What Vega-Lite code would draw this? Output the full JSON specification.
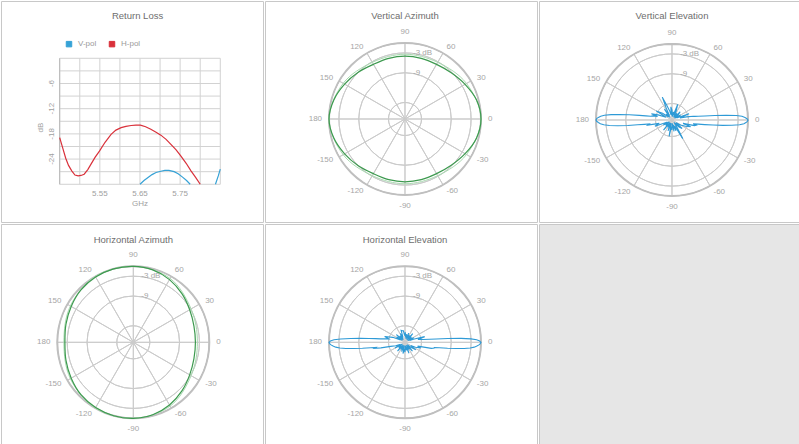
{
"$schema": "https://vega.github.io/schema/vega-lite/v6.json",
"padding": 0,
"background": "#ffffff",
"spacing": 0,
"config": {"view": {"stroke": "#c8c8c8", "strokeWidth": 1}, "font": "Liberation Sans"},
"resolve": {"scale": {"x": "independent", "y": "independent", "theta": "independent", "radius": "independent", "color": "independent"}},
"datasets": {
"spokes": [{"a":0,"a2":30},{"a":30,"a2":60},{"a":60,"a2":90},{"a":90,"a2":120},{"a":120,"a2":150},{"a":150,"a2":180},{"a":180,"a2":210},{"a":210,"a2":240},{"a":240,"a2":270},{"a":270,"a2":300},{"a":300,"a2":330},{"a":330,"a2":360}],
"rings": [{"db":-3},{"db":-6},{"db":-9},{"db":-12},{"db":-15},{"db":-18},{"db":-21}],
"outer": [{"db":0}],
"angR": [{"a":60,"t":"60"},{"a":30,"t":"30"},{"a":0,"t":"0"},{"a":-30,"t":"-30"},{"a":-60,"t":"-60"}],
"angL": [{"a":120,"t":"120"},{"a":150,"t":"150"},{"a":180,"t":"180"},{"a":-150,"t":"-150"},{"a":-120,"t":"-120"}],
"angT": [{"a":90,"t":"90"}],
"angB": [{"a":-90,"t":"-90"}],
"rlab": [{"db":-3,"t":"-3 dB"},{"db":-9,"t":"-9"}],
"gx": [{"f":5.45},{"f":5.5},{"f":5.55},{"f":5.6},{"f":5.65},{"f":5.7},{"f":5.75},{"f":5.8},{"f":5.85}],
"gy": [{"v":0},{"v":-3},{"v":-6},{"v":-9},{"v":-12},{"v":-15},{"v":-18},{"v":-21},{"v":-24},{"v":-27},{"v":-30}],
"rl": [
{"f":5.450,"db":-18.9,"pol":"H-pol","seg":"h"},{"f":5.458,"db":-21.5,"pol":"H-pol","seg":"h"},{"f":5.465,"db":-23.8,"pol":"H-pol","seg":"h"},{"f":5.472,"db":-25.5,"pol":"H-pol","seg":"h"},{"f":5.480,"db":-26.8,"pol":"H-pol","seg":"h"},{"f":5.488,"db":-27.8,"pol":"H-pol","seg":"h"},{"f":5.496,"db":-28.0,"pol":"H-pol","seg":"h"},{"f":5.503,"db":-27.9,"pol":"H-pol","seg":"h"},{"f":5.511,"db":-27.6,"pol":"H-pol","seg":"h"},{"f":5.520,"db":-26.5,"pol":"H-pol","seg":"h"},{"f":5.528,"db":-25.2,"pol":"H-pol","seg":"h"},{"f":5.538,"db":-23.6,"pol":"H-pol","seg":"h"},{"f":5.549,"db":-22.1,"pol":"H-pol","seg":"h"},{"f":5.563,"db":-20.0,"pol":"H-pol","seg":"h"},{"f":5.578,"db":-18.1,"pol":"H-pol","seg":"h"},{"f":5.590,"db":-17.1,"pol":"H-pol","seg":"h"},{"f":5.603,"db":-16.5,"pol":"H-pol","seg":"h"},{"f":5.615,"db":-16.2,"pol":"H-pol","seg":"h"},{"f":5.628,"db":-16.0,"pol":"H-pol","seg":"h"},{"f":5.640,"db":-15.9,"pol":"H-pol","seg":"h"},{"f":5.651,"db":-15.9,"pol":"H-pol","seg":"h"},{"f":5.664,"db":-16.3,"pol":"H-pol","seg":"h"},{"f":5.677,"db":-16.9,"pol":"H-pol","seg":"h"},{"f":5.690,"db":-17.6,"pol":"H-pol","seg":"h"},{"f":5.702,"db":-18.3,"pol":"H-pol","seg":"h"},{"f":5.715,"db":-19.3,"pol":"H-pol","seg":"h"},{"f":5.727,"db":-20.5,"pol":"H-pol","seg":"h"},{"f":5.740,"db":-21.8,"pol":"H-pol","seg":"h"},{"f":5.752,"db":-23.3,"pol":"H-pol","seg":"h"},{"f":5.765,"db":-25.0,"pol":"H-pol","seg":"h"},{"f":5.777,"db":-26.8,"pol":"H-pol","seg":"h"},{"f":5.789,"db":-28.4,"pol":"H-pol","seg":"h"},{"f":5.800,"db":-30.0,"pol":"H-pol","seg":"h"},
{"f":5.650,"db":-30.0,"pol":"V-pol","seg":"v1"},{"f":5.660,"db":-29.1,"pol":"V-pol","seg":"v1"},{"f":5.670,"db":-28.4,"pol":"V-pol","seg":"v1"},{"f":5.680,"db":-27.7,"pol":"V-pol","seg":"v1"},{"f":5.690,"db":-27.2,"pol":"V-pol","seg":"v1"},{"f":5.702,"db":-26.9,"pol":"V-pol","seg":"v1"},{"f":5.712,"db":-26.7,"pol":"V-pol","seg":"v1"},{"f":5.722,"db":-26.7,"pol":"V-pol","seg":"v1"},{"f":5.735,"db":-27.0,"pol":"V-pol","seg":"v1"},{"f":5.745,"db":-27.5,"pol":"V-pol","seg":"v1"},{"f":5.756,"db":-28.3,"pol":"V-pol","seg":"v1"},{"f":5.766,"db":-29.1,"pol":"V-pol","seg":"v1"},{"f":5.775,"db":-30.0,"pol":"V-pol","seg":"v1"},
{"f":5.838,"db":-30.0,"pol":"V-pol","seg":"v2"},{"f":5.845,"db":-28.0,"pol":"V-pol","seg":"v2"},{"f":5.850,"db":-26.4,"pol":"V-pol","seg":"v2"}
],
"va": [{"a":0,"db":0},{"a":15,"db":-0.6},{"a":30,"db":-2.0},{"a":45,"db":-3.2},{"a":60,"db":-3.9},{"a":75,"db":-4.0},{"a":90,"db":-4.0},{"a":105,"db":-4.0},{"a":120,"db":-3.9},{"a":135,"db":-3.0},{"a":150,"db":-1.9},{"a":165,"db":-0.7},{"a":180,"db":0},{"a":195,"db":-0.7},{"a":210,"db":-1.9},{"a":225,"db":-3.0},{"a":240,"db":-3.9},{"a":255,"db":-4.0},{"a":270,"db":-4.0},{"a":285,"db":-4.0},{"a":300,"db":-3.9},{"a":315,"db":-3.2},{"a":330,"db":-2.0},{"a":345,"db":-0.6}],
"va2": [{"a":0,"db":0},{"a":30,"db":-1.5},{"a":60,"db":-3.2},{"a":90,"db":-3.4},{"a":120,"db":-3.2},{"a":150,"db":-1.4},{"a":180,"db":0},{"a":210,"db":-1.4},{"a":240,"db":-3.2},{"a":270,"db":-3.4},{"a":300,"db":-3.2},{"a":330,"db":-1.5}],
"ha": [{"a":0,"db":-4.2},{"a":15,"db":-4.0},{"a":30,"db":-3.3},{"a":45,"db":-2.2},{"a":60,"db":-1.1},{"a":75,"db":-0.3},{"a":90,"db":0},{"a":105,"db":0},{"a":120,"db":-0.2},{"a":135,"db":-0.6},{"a":150,"db":-1.3},{"a":165,"db":-1.9},{"a":180,"db":-2.3},{"a":195,"db":-1.9},{"a":210,"db":-1.3},{"a":225,"db":-0.6},{"a":240,"db":-0.2},{"a":255,"db":0},{"a":270,"db":0},{"a":285,"db":-0.3},{"a":300,"db":-1.1},{"a":315,"db":-2.2},{"a":330,"db":-3.3},{"a":345,"db":-4.0}],
"ha2": [{"a":0,"db":-3.6},{"a":30,"db":-2.8},{"a":60,"db":-0.7},{"a":90,"db":0},{"a":120,"db":0},{"a":150,"db":-1.0},{"a":180,"db":-2.0},{"a":210,"db":-1.0},{"a":240,"db":0},{"a":270,"db":0},{"a":300,"db":-0.7},{"a":330,"db":-2.8}],
"ve": [{"a":0,"db":0},{"a":1,"db":-0.3},{"a":2,"db":-0.9},{"a":3,"db":-1.8},{"a":4,"db":-3.5},{"a":5,"db":-6.5},{"a":6,"db":-10},{"a":7,"db":-13},{"a":8,"db":-15},{"a":9,"db":-16},{"a":10,"db":-16.5},{"a":12,"db":-18.5},{"a":15,"db":-20.5},{"a":20,"db":-17.5},{"a":25,"db":-21.5},{"a":30,"db":-20},{"a":35,"db":-22},{"a":40,"db":-20.5},{"a":45,"db":-19.5},{"a":50,"db":-22},{"a":55,"db":-20.5},{"a":60,"db":-22},{"a":65,"db":-20},{"a":70,"db":-18},{"a":75,"db":-21.5},{"a":80,"db":-20.5},{"a":85,"db":-22},{"a":90,"db":-20},{"a":95,"db":-19},{"a":100,"db":-21.5},{"a":105,"db":-20},{"a":110,"db":-18},{"a":113,"db":-15.5},{"a":116,"db":-19},{"a":120,"db":-21.5},{"a":125,"db":-19},{"a":130,"db":-22},{"a":135,"db":-20.5},{"a":140,"db":-21.5},{"a":145,"db":-19.5},{"a":150,"db":-17.5},{"a":155,"db":-21},{"a":160,"db":-18.5},{"a":163,"db":-16.5},{"a":166,"db":-18.5},{"a":168,"db":-17},{"a":170,"db":-16.5},{"a":171,"db":-15},{"a":172,"db":-13},{"a":173,"db":-10},{"a":174,"db":-7},{"a":175,"db":-4.5},{"a":176,"db":-2.5},{"a":177,"db":-1.4},{"a":178,"db":-0.7},{"a":179,"db":-0.2},{"a":180,"db":0},{"a":181,"db":-0.2},{"a":182,"db":-0.7},{"a":183,"db":-1.3},{"a":184,"db":-2.3},{"a":185,"db":-4},{"a":186,"db":-6.5},{"a":187,"db":-9.5},{"a":188,"db":-12.5},{"a":189,"db":-14.5},{"a":190,"db":-16},{"a":192,"db":-15.5},{"a":195,"db":-19},{"a":200,"db":-17.5},{"a":205,"db":-21.5},{"a":210,"db":-20},{"a":215,"db":-22},{"a":220,"db":-20.5},{"a":225,"db":-21.5},{"a":230,"db":-19},{"a":235,"db":-22},{"a":240,"db":-20.5},{"a":245,"db":-21.5},{"a":250,"db":-19.5},{"a":255,"db":-22},{"a":260,"db":-18},{"a":265,"db":-21},{"a":270,"db":-20},{"a":275,"db":-22},{"a":280,"db":-19.5},{"a":285,"db":-21.5},{"a":290,"db":-19.5},{"a":295,"db":-21},{"a":300,"db":-16.5},{"a":305,"db":-20.5},{"a":310,"db":-22},{"a":315,"db":-20},{"a":320,"db":-19},{"a":325,"db":-21.5},{"a":330,"db":-20},{"a":335,"db":-18.5},{"a":340,"db":-17},{"a":343,"db":-19.5},{"a":346,"db":-16},{"a":348,"db":-15.5},{"a":350,"db":-16.5},{"a":351,"db":-15},{"a":352,"db":-13},{"a":353,"db":-10.5},{"a":354,"db":-7.5},{"a":355,"db":-4.8},{"a":356,"db":-2.5},{"a":357,"db":-1.2},{"a":358,"db":-0.6},{"a":359,"db":-0.2}],
"he": [{"a":0,"db":0},{"a":1,"db":-0.4},{"a":2,"db":-1.3},{"a":3,"db":-3},{"a":4,"db":-6},{"a":5,"db":-10},{"a":6,"db":-13.5},{"a":7,"db":-15.5},{"a":9,"db":-17.5},{"a":12,"db":-19},{"a":16,"db":-16.8},{"a":19,"db":-20},{"a":23,"db":-21.5},{"a":28,"db":-20},{"a":33,"db":-22},{"a":38,"db":-20.5},{"a":43,"db":-21.5},{"a":48,"db":-19.5},{"a":53,"db":-22},{"a":58,"db":-20.5},{"a":63,"db":-21.5},{"a":68,"db":-20},{"a":73,"db":-22},{"a":78,"db":-20.5},{"a":83,"db":-21.5},{"a":88,"db":-20},{"a":93,"db":-21},{"a":98,"db":-19.5},{"a":103,"db":-19.4},{"a":108,"db":-19.2},{"a":113,"db":-21.5},{"a":118,"db":-20},{"a":123,"db":-22},{"a":128,"db":-20.5},{"a":133,"db":-21.5},{"a":138,"db":-19.5},{"a":143,"db":-22},{"a":148,"db":-20},{"a":153,"db":-21.5},{"a":158,"db":-19},{"a":164,"db":-16.6},{"a":168,"db":-18},{"a":172,"db":-15.5},{"a":173,"db":-14},{"a":174,"db":-12},{"a":175,"db":-9.5},{"a":176,"db":-6.5},{"a":177,"db":-3.5},{"a":178,"db":-1.5},{"a":179,"db":-0.4},{"a":180,"db":0},{"a":181,"db":-0.2},{"a":182,"db":-0.6},{"a":183,"db":-1.2},{"a":184,"db":-2},{"a":185,"db":-3.2},{"a":186,"db":-5},{"a":187,"db":-7.5},{"a":188,"db":-10},{"a":189,"db":-12.5},{"a":190,"db":-14},{"a":191,"db":-13.6},{"a":193,"db":-15.5},{"a":196,"db":-18.5},{"a":200,"db":-20},{"a":205,"db":-21.5},{"a":210,"db":-19.5},{"a":215,"db":-22},{"a":220,"db":-20.5},{"a":225,"db":-21.5},{"a":230,"db":-19.5},{"a":235,"db":-22},{"a":240,"db":-20.5},{"a":245,"db":-21.5},{"a":250,"db":-20},{"a":255,"db":-22},{"a":260,"db":-19.5},{"a":265,"db":-21},{"a":270,"db":-20},{"a":275,"db":-22},{"a":280,"db":-20.5},{"a":285,"db":-21.5},{"a":290,"db":-19.5},{"a":295,"db":-22},{"a":300,"db":-20.5},{"a":305,"db":-21.5},{"a":310,"db":-19.5},{"a":315,"db":-22},{"a":320,"db":-20.5},{"a":325,"db":-19},{"a":330,"db":-21},{"a":335,"db":-19.5},{"a":340,"db":-18},{"a":343,"db":-19},{"a":347,"db":-14.8},{"a":349,"db":-14},{"a":350,"db":-14},{"a":351,"db":-12.5},{"a":352,"db":-10},{"a":353,"db":-7.5},{"a":354,"db":-5},{"a":355,"db":-3.2},{"a":356,"db":-2},{"a":357,"db":-1.2},{"a":358,"db":-0.6},{"a":359,"db":-0.2}]
},
"vconcat": [
{"spacing": 0,
 "resolve": {"scale": {"x": "independent", "y": "independent", "theta": "independent", "radius": "independent", "color": "independent"}},
 "hconcat": [
 {"width": 262, "height": 221,
  "layer": [
   {"data": {"name": "gx"}, "mark": {"type": "rule", "stroke": "#d2d2d2", "strokeWidth": 1},
    "encoding": {"x": {"field": "f", "type": "quantitative", "scale": {"domain": [5.3038, 5.9564], "nice": false, "zero": false}, "axis": null},
                 "y": {"datum": -30, "type": "quantitative", "scale": {"domain": [-38.98, 13.64], "nice": false, "zero": false}, "axis": null},
                 "y2": {"datum": 0}}},
   {"data": {"name": "gy"}, "mark": {"type": "rule", "stroke": "#d2d2d2", "strokeWidth": 1},
    "encoding": {"y": {"field": "v", "type": "quantitative", "scale": {"domain": [-38.98, 13.64], "nice": false, "zero": false}, "axis": null},
                 "x": {"datum": 5.45, "type": "quantitative", "scale": {"domain": [5.3038, 5.9564], "nice": false, "zero": false}, "axis": null},
                 "x2": {"datum": 5.85}}},
   {"data": {"values": [{"f": 5.45}]}, "mark": {"type": "rule", "stroke": "#b8b8b8", "strokeWidth": 1},
    "encoding": {"x": {"field": "f", "type": "quantitative", "scale": {"domain": [5.3038, 5.9564], "nice": false, "zero": false}, "axis": null},
                 "y": {"datum": -30, "type": "quantitative", "scale": {"domain": [-38.98, 13.64], "nice": false, "zero": false}, "axis": null},
                 "y2": {"datum": 0}}},
   {"data": {"name": "rl"}, "mark": {"type": "line", "strokeWidth": 1.2},
    "encoding": {"x": {"field": "f", "type": "quantitative", "scale": {"domain": [5.3038, 5.9564], "nice": false, "zero": false}, "axis": null},
                 "y": {"field": "db", "type": "quantitative", "scale": {"domain": [-38.98, 13.64], "nice": false, "zero": false}, "axis": null},
                 "detail": {"field": "seg", "type": "nominal"},
                 "order": {"field": "f", "type": "quantitative"},
                 "color": {"field": "pol", "type": "nominal", "scale": {"domain": ["V-pol", "H-pol"], "range": ["#36a2d6", "#d9303a"]},
                           "legend": {"title": null, "orient": "none", "legendX": 64, "legendY": 39, "direction": "horizontal", "symbolType": "square", "symbolSize": 30, "symbolStrokeWidth": 1, "labelFontSize": 8, "labelColor": "#9a9a9a", "labelFont": "Liberation Sans", "columnPadding": 10, "labelOffset": 5, "padding": 0,
                                      "encode": {"symbols": {"update": {"fill": {"signal": "datum.value === 'H-pol' ? '#d9303a' : '#36a2d6'"}, "fillOpacity": {"value": 1}}}}}}}},
   {"data": {"values": [{"f": 5.55, "t": "5.55"}, {"f": 5.65, "t": "5.65"}, {"f": 5.75, "t": "5.75"}]},
    "mark": {"type": "text", "fontSize": 8, "color": "#a0a0a0", "align": "center", "baseline": "middle", "dy": 9.5},
    "encoding": {"x": {"field": "f", "type": "quantitative", "scale": {"domain": [5.3038, 5.9564], "nice": false, "zero": false}, "axis": null},
                 "y": {"datum": -30, "type": "quantitative", "scale": {"domain": [-38.98, 13.64], "nice": false, "zero": false}, "axis": null},
                 "text": {"field": "t"}}},
   {"data": {"values": [{"v": -6, "t": "-6"}, {"v": -12, "t": "-12"}, {"v": -18, "t": "-18"}, {"v": -24, "t": "-24"}]},
    "mark": {"type": "text", "fontSize": 8, "color": "#a0a0a0", "align": "center", "baseline": "middle", "angle": 270, "dy": -8},
    "encoding": {"y": {"field": "v", "type": "quantitative", "scale": {"domain": [-38.98, 13.64], "nice": false, "zero": false}, "axis": null},
                 "x": {"datum": 5.45, "type": "quantitative", "scale": {"domain": [5.3038, 5.9564], "nice": false, "zero": false}, "axis": null},
                 "text": {"field": "t"}}},
   {"data": {"values": [{"t": "dB"}]},
    "mark": {"type": "text", "fontSize": 8, "color": "#a0a0a0", "align": "center", "baseline": "middle", "angle": 270, "dy": -18.5},
    "encoding": {"y": {"datum": -16.5, "type": "quantitative", "scale": {"domain": [-38.98, 13.64], "nice": false, "zero": false}, "axis": null},
                 "x": {"datum": 5.45, "type": "quantitative", "scale": {"domain": [5.3038, 5.9564], "nice": false, "zero": false}, "axis": null},
                 "text": {"field": "t"}}},
   {"data": {"values": [{"t": "GHz"}]},
    "mark": {"type": "text", "fontSize": 8, "color": "#a0a0a0", "align": "center", "baseline": "middle", "dy": 19.5},
    "encoding": {"x": {"datum": 5.65, "type": "quantitative", "scale": {"domain": [5.3038, 5.9564], "nice": false, "zero": false}, "axis": null},
                 "y": {"datum": -30, "type": "quantitative", "scale": {"domain": [-38.98, 13.64], "nice": false, "zero": false}, "axis": null},
                 "text": {"field": "t"}}},
   {"data": {"values": [{"t": "Return Loss"}]},
    "mark": {"type": "text", "fontSize": 9.5, "color": "#6e6e6e", "align": "center", "baseline": "middle"},
    "encoding": {"x": {"datum": 5.644, "type": "quantitative", "scale": {"domain": [5.3038, 5.9564], "nice": false, "zero": false}, "axis": null},
                 "y": {"datum": 10.07, "type": "quantitative", "scale": {"domain": [-38.98, 13.64], "nice": false, "zero": false}, "axis": null},
                 "text": {"field": "t"}}}
  ]},
 {"width": 272, "height": 221,
  "layer": [
   {"data": {"name": "spokes"}, "mark": {"type": "arc", "fill": null, "stroke": "#cbcbcb", "strokeWidth": 1},
    "encoding": {"x": {"datum": 0, "type": "quantitative", "scale": {"domain": [-42.37, 39.95], "nice": false, "zero": false}, "axis": null},
                 "y": {"datum": 0, "type": "quantitative", "scale": {"domain": [-31.17, 35.71], "nice": false, "zero": false}, "axis": null},
                 "theta": {"field": "a", "type": "quantitative", "stack": false, "scale": {"domain": [90, -270], "range": [0, 6.283185307], "nice": false, "zero": false}},
                 "theta2": {"field": "a2"},
                 "radius": {"datum": 0, "type": "quantitative", "scale": {"type": "linear", "domain": [-23, 0], "range": [0, 76], "zero": false, "nice": false}},
                 "radius2": {"value": 0}}},
   {"data": {"name": "rings"}, "mark": {"type": "arc", "fill": null, "stroke": "#cbcbcb", "strokeWidth": 1},
    "encoding": {"x": {"datum": 0, "type": "quantitative", "scale": {"domain": [-42.37, 39.95], "nice": false, "zero": false}, "axis": null},
                 "y": {"datum": 0, "type": "quantitative", "scale": {"domain": [-31.17, 35.71], "nice": false, "zero": false}, "axis": null},
                 "theta": {"value": 0}, "theta2": {"value": 6.2832},
                 "radius": {"field": "db", "type": "quantitative", "scale": {"type": "linear", "domain": [-23, 0], "range": [0, 76], "zero": false, "nice": false}},
                 "radius2": {"value": 0}}},
   {"data": {"name": "outer"}, "mark": {"type": "arc", "fill": null, "stroke": "#bfbfbf", "strokeWidth": 2},
    "encoding": {"x": {"datum": 0, "type": "quantitative", "scale": {"domain": [-42.37, 39.95], "nice": false, "zero": false}, "axis": null},
                 "y": {"datum": 0, "type": "quantitative", "scale": {"domain": [-31.17, 35.71], "nice": false, "zero": false}, "axis": null},
                 "theta": {"value": 0}, "theta2": {"value": 6.2832},
                 "radius": {"field": "db", "type": "quantitative", "scale": {"type": "linear", "domain": [-23, 0], "range": [0, 76], "zero": false, "nice": false}},
                 "radius2": {"value": 0}}},
   {"data": {"name": "va2"},
    "transform": [{"calculate": "(datum.db+23)*cos(datum.a*PI/180)", "as": "x"}, {"calculate": "(datum.db+23)*sin(datum.a*PI/180)", "as": "y"}],
    "mark": {"type": "line", "stroke": "#a8d9b0", "strokeWidth": 1, "interpolate": "cardinal-closed"},
    "encoding": {"x": {"field": "x", "type": "quantitative", "scale": {"domain": [-42.37, 39.95], "nice": false, "zero": false}, "axis": null},
                 "y": {"field": "y", "type": "quantitative", "scale": {"domain": [-31.17, 35.71], "nice": false, "zero": false}, "axis": null},
                 "order": {"field": "a", "type": "quantitative"}}},
   {"data": {"name": "va"},
    "transform": [{"calculate": "(datum.db+23)*cos(datum.a*PI/180)", "as": "x"}, {"calculate": "(datum.db+23)*sin(datum.a*PI/180)", "as": "y"}],
    "mark": {"type": "line", "stroke": "#3d9a4f", "strokeWidth": 1.2, "interpolate": "cardinal-closed"},
    "encoding": {"x": {"field": "x", "type": "quantitative", "scale": {"domain": [-42.37, 39.95], "nice": false, "zero": false}, "axis": null},
                 "y": {"field": "y", "type": "quantitative", "scale": {"domain": [-31.17, 35.71], "nice": false, "zero": false}, "axis": null},
                 "order": {"field": "a", "type": "quantitative"}}},
   {"data": {"name": "rlab"}, "mark": {"type": "text", "align": "left", "baseline": "middle", "dx": 8, "fontSize": 8, "color": "#a6a6a6"},
    "encoding": {"x": {"datum": 0, "type": "quantitative", "scale": {"domain": [-42.37, 39.95], "nice": false, "zero": false}, "axis": null},
                 "y": {"datum": 0, "type": "quantitative", "scale": {"domain": [-31.17, 35.71], "nice": false, "zero": false}, "axis": null},
                 "theta": {"datum": 90, "type": "quantitative", "scale": {"domain": [90, -270], "range": [0, 6.283185307], "nice": false, "zero": false}},
                 "radius": {"field": "db", "type": "quantitative", "scale": {"type": "linear", "domain": [-23, 0], "range": [0, 76], "zero": false, "nice": false}},
                 "text": {"field": "t"}}},
   {"data": {"name": "angR"}, "mark": {"type": "text", "align": "left", "baseline": "middle", "fontSize": 8, "color": "#a6a6a6"},
    "encoding": {"x": {"datum": 0, "type": "quantitative", "scale": {"domain": [-42.37, 39.95], "nice": false, "zero": false}, "axis": null},
                 "y": {"datum": 0, "type": "quantitative", "scale": {"domain": [-31.17, 35.71], "nice": false, "zero": false}, "axis": null},
                 "theta": {"field": "a", "type": "quantitative", "stack": false, "scale": {"domain": [90, -270], "range": [0, 6.283185307], "nice": false, "zero": false}},
                 "radius": {"datum": 2.1, "type": "quantitative", "scale": {"type": "linear", "domain": [-23, 0], "range": [0, 76], "zero": false, "nice": false}},
                 "text": {"field": "t"}}},
   {"data": {"name": "angL"}, "mark": {"type": "text", "align": "right", "baseline": "middle", "fontSize": 8, "color": "#a6a6a6"},
    "encoding": {"x": {"datum": 0, "type": "quantitative", "scale": {"domain": [-42.37, 39.95], "nice": false, "zero": false}, "axis": null},
                 "y": {"datum": 0, "type": "quantitative", "scale": {"domain": [-31.17, 35.71], "nice": false, "zero": false}, "axis": null},
                 "theta": {"field": "a", "type": "quantitative", "stack": false, "scale": {"domain": [90, -270], "range": [0, 6.283185307], "nice": false, "zero": false}},
                 "radius": {"datum": 2.1, "type": "quantitative", "scale": {"type": "linear", "domain": [-23, 0], "range": [0, 76], "zero": false, "nice": false}},
                 "text": {"field": "t"}}},
   {"data": {"name": "angT"}, "mark": {"type": "text", "align": "center", "baseline": "bottom", "fontSize": 8, "color": "#a6a6a6"},
    "encoding": {"x": {"datum": 0, "type": "quantitative", "scale": {"domain": [-42.37, 39.95], "nice": false, "zero": false}, "axis": null},
                 "y": {"datum": 0, "type": "quantitative", "scale": {"domain": [-31.17, 35.71], "nice": false, "zero": false}, "axis": null},
                 "theta": {"field": "a", "type": "quantitative", "stack": false, "scale": {"domain": [90, -270], "range": [0, 6.283185307], "nice": false, "zero": false}},
                 "radius": {"datum": 2.1, "type": "quantitative", "scale": {"type": "linear", "domain": [-23, 0], "range": [0, 76], "zero": false, "nice": false}},
                 "text": {"field": "t"}}},
   {"data": {"name": "angB"}, "mark": {"type": "text", "align": "center", "baseline": "top", "fontSize": 8, "color": "#a6a6a6"},
    "encoding": {"x": {"datum": 0, "type": "quantitative", "scale": {"domain": [-42.37, 39.95], "nice": false, "zero": false}, "axis": null},
                 "y": {"datum": 0, "type": "quantitative", "scale": {"domain": [-31.17, 35.71], "nice": false, "zero": false}, "axis": null},
                 "theta": {"field": "a", "type": "quantitative", "stack": false, "scale": {"domain": [90, -270], "range": [0, 6.283185307], "nice": false, "zero": false}},
                 "radius": {"datum": 2.1, "type": "quantitative", "scale": {"type": "linear", "domain": [-23, 0], "range": [0, 76], "zero": false, "nice": false}},
                 "text": {"field": "t"}}},
   {"data": {"values": [{"t": "Vertical Azimuth"}]}, "mark": {"type": "text", "fontSize": 9.5, "color": "#6e6e6e", "align": "center", "baseline": "middle"},
    "encoding": {"x": {"datum": 0, "type": "quantitative", "scale": {"domain": [-42.37, 39.95], "nice": false, "zero": false}, "axis": null},
                 "y": {"datum": 31.17, "type": "quantitative", "scale": {"domain": [-31.17, 35.71], "nice": false, "zero": false}, "axis": null},
                 "text": {"field": "t"}}}
  ]},
 {"width": 262, "height": 221,
  "layer": [
   {"data": {"name": "spokes"}, "mark": {"type": "arc", "fill": null, "stroke": "#cbcbcb", "strokeWidth": 1},
    "encoding": {"x": {"datum": 0, "type": "quantitative", "scale": {"domain": [-40.25, 39.04], "nice": false, "zero": false}, "axis": null},
                 "y": {"datum": 0, "type": "quantitative", "scale": {"domain": [-30.87, 36.01], "nice": false, "zero": false}, "axis": null},
                 "theta": {"field": "a", "type": "quantitative", "stack": false, "scale": {"domain": [90, -270], "range": [0, 6.283185307], "nice": false, "zero": false}},
                 "theta2": {"field": "a2"},
                 "radius": {"datum": 0, "type": "quantitative", "scale": {"type": "linear", "domain": [-23, 0], "range": [0, 76], "zero": false, "nice": false}},
                 "radius2": {"value": 0}}},
   {"data": {"name": "rings"}, "mark": {"type": "arc", "fill": null, "stroke": "#cbcbcb", "strokeWidth": 1},
    "encoding": {"x": {"datum": 0, "type": "quantitative", "scale": {"domain": [-40.25, 39.04], "nice": false, "zero": false}, "axis": null},
                 "y": {"datum": 0, "type": "quantitative", "scale": {"domain": [-30.87, 36.01], "nice": false, "zero": false}, "axis": null},
                 "theta": {"value": 0}, "theta2": {"value": 6.2832},
                 "radius": {"field": "db", "type": "quantitative", "scale": {"type": "linear", "domain": [-23, 0], "range": [0, 76], "zero": false, "nice": false}},
                 "radius2": {"value": 0}}},
   {"data": {"name": "outer"}, "mark": {"type": "arc", "fill": null, "stroke": "#bfbfbf", "strokeWidth": 2},
    "encoding": {"x": {"datum": 0, "type": "quantitative", "scale": {"domain": [-40.25, 39.04], "nice": false, "zero": false}, "axis": null},
                 "y": {"datum": 0, "type": "quantitative", "scale": {"domain": [-30.87, 36.01], "nice": false, "zero": false}, "axis": null},
                 "theta": {"value": 0}, "theta2": {"value": 6.2832},
                 "radius": {"field": "db", "type": "quantitative", "scale": {"type": "linear", "domain": [-23, 0], "range": [0, 76], "zero": false, "nice": false}},
                 "radius2": {"value": 0}}},
   {"data": {"name": "ve"},
    "transform": [{"calculate": "(datum.db+23)*cos(datum.a*PI/180)", "as": "x"}, {"calculate": "(datum.db+23)*sin(datum.a*PI/180)", "as": "y"}],
    "mark": {"type": "line", "stroke": "#2e9ad6", "strokeWidth": 1.1, "interpolate": "linear-closed"},
    "encoding": {"x": {"field": "x", "type": "quantitative", "scale": {"domain": [-40.25, 39.04], "nice": false, "zero": false}, "axis": null},
                 "y": {"field": "y", "type": "quantitative", "scale": {"domain": [-30.87, 36.01], "nice": false, "zero": false}, "axis": null},
                 "order": {"field": "a", "type": "quantitative"}}},
   {"data": {"name": "rlab"}, "mark": {"type": "text", "align": "left", "baseline": "middle", "dx": 8, "fontSize": 8, "color": "#a6a6a6"},
    "encoding": {"x": {"datum": 0, "type": "quantitative", "scale": {"domain": [-40.25, 39.04], "nice": false, "zero": false}, "axis": null},
                 "y": {"datum": 0, "type": "quantitative", "scale": {"domain": [-30.87, 36.01], "nice": false, "zero": false}, "axis": null},
                 "theta": {"datum": 90, "type": "quantitative", "scale": {"domain": [90, -270], "range": [0, 6.283185307], "nice": false, "zero": false}},
                 "radius": {"field": "db", "type": "quantitative", "scale": {"type": "linear", "domain": [-23, 0], "range": [0, 76], "zero": false, "nice": false}},
                 "text": {"field": "t"}}},
   {"data": {"name": "angR"}, "mark": {"type": "text", "align": "left", "baseline": "middle", "fontSize": 8, "color": "#a6a6a6"},
    "encoding": {"x": {"datum": 0, "type": "quantitative", "scale": {"domain": [-40.25, 39.04], "nice": false, "zero": false}, "axis": null},
                 "y": {"datum": 0, "type": "quantitative", "scale": {"domain": [-30.87, 36.01], "nice": false, "zero": false}, "axis": null},
                 "theta": {"field": "a", "type": "quantitative", "stack": false, "scale": {"domain": [90, -270], "range": [0, 6.283185307], "nice": false, "zero": false}},
                 "radius": {"datum": 2.1, "type": "quantitative", "scale": {"type": "linear", "domain": [-23, 0], "range": [0, 76], "zero": false, "nice": false}},
                 "text": {"field": "t"}}},
   {"data": {"name": "angL"}, "mark": {"type": "text", "align": "right", "baseline": "middle", "fontSize": 8, "color": "#a6a6a6"},
    "encoding": {"x": {"datum": 0, "type": "quantitative", "scale": {"domain": [-40.25, 39.04], "nice": false, "zero": false}, "axis": null},
                 "y": {"datum": 0, "type": "quantitative", "scale": {"domain": [-30.87, 36.01], "nice": false, "zero": false}, "axis": null},
                 "theta": {"field": "a", "type": "quantitative", "stack": false, "scale": {"domain": [90, -270], "range": [0, 6.283185307], "nice": false, "zero": false}},
                 "radius": {"datum": 2.1, "type": "quantitative", "scale": {"type": "linear", "domain": [-23, 0], "range": [0, 76], "zero": false, "nice": false}},
                 "text": {"field": "t"}}},
   {"data": {"name": "angT"}, "mark": {"type": "text", "align": "center", "baseline": "bottom", "fontSize": 8, "color": "#a6a6a6"},
    "encoding": {"x": {"datum": 0, "type": "quantitative", "scale": {"domain": [-40.25, 39.04], "nice": false, "zero": false}, "axis": null},
                 "y": {"datum": 0, "type": "quantitative", "scale": {"domain": [-30.87, 36.01], "nice": false, "zero": false}, "axis": null},
                 "theta": {"field": "a", "type": "quantitative", "stack": false, "scale": {"domain": [90, -270], "range": [0, 6.283185307], "nice": false, "zero": false}},
                 "radius": {"datum": 2.1, "type": "quantitative", "scale": {"type": "linear", "domain": [-23, 0], "range": [0, 76], "zero": false, "nice": false}},
                 "text": {"field": "t"}}},
   {"data": {"name": "angB"}, "mark": {"type": "text", "align": "center", "baseline": "top", "fontSize": 8, "color": "#a6a6a6"},
    "encoding": {"x": {"datum": 0, "type": "quantitative", "scale": {"domain": [-40.25, 39.04], "nice": false, "zero": false}, "axis": null},
                 "y": {"datum": 0, "type": "quantitative", "scale": {"domain": [-30.87, 36.01], "nice": false, "zero": false}, "axis": null},
                 "theta": {"field": "a", "type": "quantitative", "stack": false, "scale": {"domain": [90, -270], "range": [0, 6.283185307], "nice": false, "zero": false}},
                 "radius": {"datum": 2.1, "type": "quantitative", "scale": {"type": "linear", "domain": [-23, 0], "range": [0, 76], "zero": false, "nice": false}},
                 "text": {"field": "t"}}},
   {"data": {"values": [{"t": "Vertical Elevation"}]}, "mark": {"type": "text", "fontSize": 9.5, "color": "#6e6e6e", "align": "center", "baseline": "middle"},
    "encoding": {"x": {"datum": 0, "type": "quantitative", "scale": {"domain": [-40.25, 39.04], "nice": false, "zero": false}, "axis": null},
                 "y": {"datum": 31.47, "type": "quantitative", "scale": {"domain": [-30.87, 36.01], "nice": false, "zero": false}, "axis": null},
                 "text": {"field": "t"}}}
  ]}
 ]},
{"spacing": 0,
 "resolve": {"scale": {"x": "independent", "y": "independent", "theta": "independent", "radius": "independent", "color": "independent"}},
 "hconcat": [
 {"width": 262, "height": 221,
  "layer": [
   {"data": {"name": "spokes"}, "mark": {"type": "arc", "fill": null, "stroke": "#cbcbcb", "strokeWidth": 1},
    "encoding": {"x": {"datum": 0, "type": "quantitative", "scale": {"domain": [-40.04, 39.25], "nice": false, "zero": false}, "axis": null},
                 "y": {"datum": 0, "type": "quantitative", "scale": {"domain": [-31.08, 35.80], "nice": false, "zero": false}, "axis": null},
                 "theta": {"field": "a", "type": "quantitative", "stack": false, "scale": {"domain": [90, -270], "range": [0, 6.283185307], "nice": false, "zero": false}},
                 "theta2": {"field": "a2"},
                 "radius": {"datum": 0, "type": "quantitative", "scale": {"type": "linear", "domain": [-23, 0], "range": [0, 76], "zero": false, "nice": false}},
                 "radius2": {"value": 0}}},
   {"data": {"name": "rings"}, "mark": {"type": "arc", "fill": null, "stroke": "#cbcbcb", "strokeWidth": 1},
    "encoding": {"x": {"datum": 0, "type": "quantitative", "scale": {"domain": [-40.04, 39.25], "nice": false, "zero": false}, "axis": null},
                 "y": {"datum": 0, "type": "quantitative", "scale": {"domain": [-31.08, 35.80], "nice": false, "zero": false}, "axis": null},
                 "theta": {"value": 0}, "theta2": {"value": 6.2832},
                 "radius": {"field": "db", "type": "quantitative", "scale": {"type": "linear", "domain": [-23, 0], "range": [0, 76], "zero": false, "nice": false}},
                 "radius2": {"value": 0}}},
   {"data": {"name": "outer"}, "mark": {"type": "arc", "fill": null, "stroke": "#bfbfbf", "strokeWidth": 2},
    "encoding": {"x": {"datum": 0, "type": "quantitative", "scale": {"domain": [-40.04, 39.25], "nice": false, "zero": false}, "axis": null},
                 "y": {"datum": 0, "type": "quantitative", "scale": {"domain": [-31.08, 35.80], "nice": false, "zero": false}, "axis": null},
                 "theta": {"value": 0}, "theta2": {"value": 6.2832},
                 "radius": {"field": "db", "type": "quantitative", "scale": {"type": "linear", "domain": [-23, 0], "range": [0, 76], "zero": false, "nice": false}},
                 "radius2": {"value": 0}}},
   {"data": {"name": "ha2"},
    "transform": [{"calculate": "(datum.db+23)*cos(datum.a*PI/180)", "as": "x"}, {"calculate": "(datum.db+23)*sin(datum.a*PI/180)", "as": "y"}],
    "mark": {"type": "line", "stroke": "#a8d9b0", "strokeWidth": 1, "interpolate": "cardinal-closed"},
    "encoding": {"x": {"field": "x", "type": "quantitative", "scale": {"domain": [-40.04, 39.25], "nice": false, "zero": false}, "axis": null},
                 "y": {"field": "y", "type": "quantitative", "scale": {"domain": [-31.08, 35.80], "nice": false, "zero": false}, "axis": null},
                 "order": {"field": "a", "type": "quantitative"}}},
   {"data": {"name": "ha"},
    "transform": [{"calculate": "(datum.db+23)*cos(datum.a*PI/180)", "as": "x"}, {"calculate": "(datum.db+23)*sin(datum.a*PI/180)", "as": "y"}],
    "mark": {"type": "line", "stroke": "#3d9a4f", "strokeWidth": 1.2, "interpolate": "cardinal-closed"},
    "encoding": {"x": {"field": "x", "type": "quantitative", "scale": {"domain": [-40.04, 39.25], "nice": false, "zero": false}, "axis": null},
                 "y": {"field": "y", "type": "quantitative", "scale": {"domain": [-31.08, 35.80], "nice": false, "zero": false}, "axis": null},
                 "order": {"field": "a", "type": "quantitative"}}},
   {"data": {"name": "rlab"}, "mark": {"type": "text", "align": "left", "baseline": "middle", "dx": 8, "fontSize": 8, "color": "#a6a6a6"},
    "encoding": {"x": {"datum": 0, "type": "quantitative", "scale": {"domain": [-40.04, 39.25], "nice": false, "zero": false}, "axis": null},
                 "y": {"datum": 0, "type": "quantitative", "scale": {"domain": [-31.08, 35.80], "nice": false, "zero": false}, "axis": null},
                 "theta": {"datum": 90, "type": "quantitative", "scale": {"domain": [90, -270], "range": [0, 6.283185307], "nice": false, "zero": false}},
                 "radius": {"field": "db", "type": "quantitative", "scale": {"type": "linear", "domain": [-23, 0], "range": [0, 76], "zero": false, "nice": false}},
                 "text": {"field": "t"}}},
   {"data": {"name": "angR"}, "mark": {"type": "text", "align": "left", "baseline": "middle", "fontSize": 8, "color": "#a6a6a6"},
    "encoding": {"x": {"datum": 0, "type": "quantitative", "scale": {"domain": [-40.04, 39.25], "nice": false, "zero": false}, "axis": null},
                 "y": {"datum": 0, "type": "quantitative", "scale": {"domain": [-31.08, 35.80], "nice": false, "zero": false}, "axis": null},
                 "theta": {"field": "a", "type": "quantitative", "stack": false, "scale": {"domain": [90, -270], "range": [0, 6.283185307], "nice": false, "zero": false}},
                 "radius": {"datum": 2.1, "type": "quantitative", "scale": {"type": "linear", "domain": [-23, 0], "range": [0, 76], "zero": false, "nice": false}},
                 "text": {"field": "t"}}},
   {"data": {"name": "angL"}, "mark": {"type": "text", "align": "right", "baseline": "middle", "fontSize": 8, "color": "#a6a6a6"},
    "encoding": {"x": {"datum": 0, "type": "quantitative", "scale": {"domain": [-40.04, 39.25], "nice": false, "zero": false}, "axis": null},
                 "y": {"datum": 0, "type": "quantitative", "scale": {"domain": [-31.08, 35.80], "nice": false, "zero": false}, "axis": null},
                 "theta": {"field": "a", "type": "quantitative", "stack": false, "scale": {"domain": [90, -270], "range": [0, 6.283185307], "nice": false, "zero": false}},
                 "radius": {"datum": 2.1, "type": "quantitative", "scale": {"type": "linear", "domain": [-23, 0], "range": [0, 76], "zero": false, "nice": false}},
                 "text": {"field": "t"}}},
   {"data": {"name": "angT"}, "mark": {"type": "text", "align": "center", "baseline": "bottom", "fontSize": 8, "color": "#a6a6a6"},
    "encoding": {"x": {"datum": 0, "type": "quantitative", "scale": {"domain": [-40.04, 39.25], "nice": false, "zero": false}, "axis": null},
                 "y": {"datum": 0, "type": "quantitative", "scale": {"domain": [-31.08, 35.80], "nice": false, "zero": false}, "axis": null},
                 "theta": {"field": "a", "type": "quantitative", "stack": false, "scale": {"domain": [90, -270], "range": [0, 6.283185307], "nice": false, "zero": false}},
                 "radius": {"datum": 2.1, "type": "quantitative", "scale": {"type": "linear", "domain": [-23, 0], "range": [0, 76], "zero": false, "nice": false}},
                 "text": {"field": "t"}}},
   {"data": {"name": "angB"}, "mark": {"type": "text", "align": "center", "baseline": "top", "fontSize": 8, "color": "#a6a6a6"},
    "encoding": {"x": {"datum": 0, "type": "quantitative", "scale": {"domain": [-40.04, 39.25], "nice": false, "zero": false}, "axis": null},
                 "y": {"datum": 0, "type": "quantitative", "scale": {"domain": [-31.08, 35.80], "nice": false, "zero": false}, "axis": null},
                 "theta": {"field": "a", "type": "quantitative", "stack": false, "scale": {"domain": [90, -270], "range": [0, 6.283185307], "nice": false, "zero": false}},
                 "radius": {"datum": 2.1, "type": "quantitative", "scale": {"type": "linear", "domain": [-23, 0], "range": [0, 76], "zero": false, "nice": false}},
                 "text": {"field": "t"}}},
   {"data": {"values": [{"t": "Horizontal Azimuth"}]}, "mark": {"type": "text", "fontSize": 9.5, "color": "#6e6e6e", "align": "center", "baseline": "middle"},
    "encoding": {"x": {"datum": 0, "type": "quantitative", "scale": {"domain": [-40.04, 39.25], "nice": false, "zero": false}, "axis": null},
                 "y": {"datum": 30.96, "type": "quantitative", "scale": {"domain": [-31.08, 35.80], "nice": false, "zero": false}, "axis": null},
                 "text": {"field": "t"}}}
  ]},
 {"width": 272, "height": 221,
  "layer": [
   {"data": {"name": "spokes"}, "mark": {"type": "arc", "fill": null, "stroke": "#cbcbcb", "strokeWidth": 1},
    "encoding": {"x": {"datum": 0, "type": "quantitative", "scale": {"domain": [-42.37, 39.95], "nice": false, "zero": false}, "axis": null},
                 "y": {"datum": 0, "type": "quantitative", "scale": {"domain": [-31.08, 35.80], "nice": false, "zero": false}, "axis": null},
                 "theta": {"field": "a", "type": "quantitative", "stack": false, "scale": {"domain": [90, -270], "range": [0, 6.283185307], "nice": false, "zero": false}},
                 "theta2": {"field": "a2"},
                 "radius": {"datum": 0, "type": "quantitative", "scale": {"type": "linear", "domain": [-23, 0], "range": [0, 76], "zero": false, "nice": false}},
                 "radius2": {"value": 0}}},
   {"data": {"name": "rings"}, "mark": {"type": "arc", "fill": null, "stroke": "#cbcbcb", "strokeWidth": 1},
    "encoding": {"x": {"datum": 0, "type": "quantitative", "scale": {"domain": [-42.37, 39.95], "nice": false, "zero": false}, "axis": null},
                 "y": {"datum": 0, "type": "quantitative", "scale": {"domain": [-31.08, 35.80], "nice": false, "zero": false}, "axis": null},
                 "theta": {"value": 0}, "theta2": {"value": 6.2832},
                 "radius": {"field": "db", "type": "quantitative", "scale": {"type": "linear", "domain": [-23, 0], "range": [0, 76], "zero": false, "nice": false}},
                 "radius2": {"value": 0}}},
   {"data": {"name": "outer"}, "mark": {"type": "arc", "fill": null, "stroke": "#bfbfbf", "strokeWidth": 2},
    "encoding": {"x": {"datum": 0, "type": "quantitative", "scale": {"domain": [-42.37, 39.95], "nice": false, "zero": false}, "axis": null},
                 "y": {"datum": 0, "type": "quantitative", "scale": {"domain": [-31.08, 35.80], "nice": false, "zero": false}, "axis": null},
                 "theta": {"value": 0}, "theta2": {"value": 6.2832},
                 "radius": {"field": "db", "type": "quantitative", "scale": {"type": "linear", "domain": [-23, 0], "range": [0, 76], "zero": false, "nice": false}},
                 "radius2": {"value": 0}}},
   {"data": {"name": "he"},
    "transform": [{"calculate": "(datum.db+23)*cos(datum.a*PI/180)", "as": "x"}, {"calculate": "(datum.db+23)*sin(datum.a*PI/180)", "as": "y"}],
    "mark": {"type": "line", "stroke": "#2e9ad6", "strokeWidth": 1.1, "interpolate": "linear-closed"},
    "encoding": {"x": {"field": "x", "type": "quantitative", "scale": {"domain": [-42.37, 39.95], "nice": false, "zero": false}, "axis": null},
                 "y": {"field": "y", "type": "quantitative", "scale": {"domain": [-31.08, 35.80], "nice": false, "zero": false}, "axis": null},
                 "order": {"field": "a", "type": "quantitative"}}},
   {"data": {"name": "rlab"}, "mark": {"type": "text", "align": "left", "baseline": "middle", "dx": 8, "fontSize": 8, "color": "#a6a6a6"},
    "encoding": {"x": {"datum": 0, "type": "quantitative", "scale": {"domain": [-42.37, 39.95], "nice": false, "zero": false}, "axis": null},
                 "y": {"datum": 0, "type": "quantitative", "scale": {"domain": [-31.08, 35.80], "nice": false, "zero": false}, "axis": null},
                 "theta": {"datum": 90, "type": "quantitative", "scale": {"domain": [90, -270], "range": [0, 6.283185307], "nice": false, "zero": false}},
                 "radius": {"field": "db", "type": "quantitative", "scale": {"type": "linear", "domain": [-23, 0], "range": [0, 76], "zero": false, "nice": false}},
                 "text": {"field": "t"}}},
   {"data": {"name": "angR"}, "mark": {"type": "text", "align": "left", "baseline": "middle", "fontSize": 8, "color": "#a6a6a6"},
    "encoding": {"x": {"datum": 0, "type": "quantitative", "scale": {"domain": [-42.37, 39.95], "nice": false, "zero": false}, "axis": null},
                 "y": {"datum": 0, "type": "quantitative", "scale": {"domain": [-31.08, 35.80], "nice": false, "zero": false}, "axis": null},
                 "theta": {"field": "a", "type": "quantitative", "stack": false, "scale": {"domain": [90, -270], "range": [0, 6.283185307], "nice": false, "zero": false}},
                 "radius": {"datum": 2.1, "type": "quantitative", "scale": {"type": "linear", "domain": [-23, 0], "range": [0, 76], "zero": false, "nice": false}},
                 "text": {"field": "t"}}},
   {"data": {"name": "angL"}, "mark": {"type": "text", "align": "right", "baseline": "middle", "fontSize": 8, "color": "#a6a6a6"},
    "encoding": {"x": {"datum": 0, "type": "quantitative", "scale": {"domain": [-42.37, 39.95], "nice": false, "zero": false}, "axis": null},
                 "y": {"datum": 0, "type": "quantitative", "scale": {"domain": [-31.08, 35.80], "nice": false, "zero": false}, "axis": null},
                 "theta": {"field": "a", "type": "quantitative", "stack": false, "scale": {"domain": [90, -270], "range": [0, 6.283185307], "nice": false, "zero": false}},
                 "radius": {"datum": 2.1, "type": "quantitative", "scale": {"type": "linear", "domain": [-23, 0], "range": [0, 76], "zero": false, "nice": false}},
                 "text": {"field": "t"}}},
   {"data": {"name": "angT"}, "mark": {"type": "text", "align": "center", "baseline": "bottom", "fontSize": 8, "color": "#a6a6a6"},
    "encoding": {"x": {"datum": 0, "type": "quantitative", "scale": {"domain": [-42.37, 39.95], "nice": false, "zero": false}, "axis": null},
                 "y": {"datum": 0, "type": "quantitative", "scale": {"domain": [-31.08, 35.80], "nice": false, "zero": false}, "axis": null},
                 "theta": {"field": "a", "type": "quantitative", "stack": false, "scale": {"domain": [90, -270], "range": [0, 6.283185307], "nice": false, "zero": false}},
                 "radius": {"datum": 2.1, "type": "quantitative", "scale": {"type": "linear", "domain": [-23, 0], "range": [0, 76], "zero": false, "nice": false}},
                 "text": {"field": "t"}}},
   {"data": {"name": "angB"}, "mark": {"type": "text", "align": "center", "baseline": "top", "fontSize": 8, "color": "#a6a6a6"},
    "encoding": {"x": {"datum": 0, "type": "quantitative", "scale": {"domain": [-42.37, 39.95], "nice": false, "zero": false}, "axis": null},
                 "y": {"datum": 0, "type": "quantitative", "scale": {"domain": [-31.08, 35.80], "nice": false, "zero": false}, "axis": null},
                 "theta": {"field": "a", "type": "quantitative", "stack": false, "scale": {"domain": [90, -270], "range": [0, 6.283185307], "nice": false, "zero": false}},
                 "radius": {"datum": 2.1, "type": "quantitative", "scale": {"type": "linear", "domain": [-23, 0], "range": [0, 76], "zero": false, "nice": false}},
                 "text": {"field": "t"}}},
   {"data": {"values": [{"t": "Horizontal Elevation"}]}, "mark": {"type": "text", "fontSize": 9.5, "color": "#6e6e6e", "align": "center", "baseline": "middle"},
    "encoding": {"x": {"datum": 0, "type": "quantitative", "scale": {"domain": [-42.37, 39.95], "nice": false, "zero": false}, "axis": null},
                 "y": {"datum": 30.96, "type": "quantitative", "scale": {"domain": [-31.08, 35.80], "nice": false, "zero": false}, "axis": null},
                 "text": {"field": "t"}}}
  ]},
 {"width": 262, "height": 221, "view": {"fill": "#e6e6e6", "stroke": "#c8c8c8"},
  "data": {"values": [{"t": ""}]},
  "mark": {"type": "text"},
  "encoding": {"text": {"field": "t"}}}
 ]}
]
}
